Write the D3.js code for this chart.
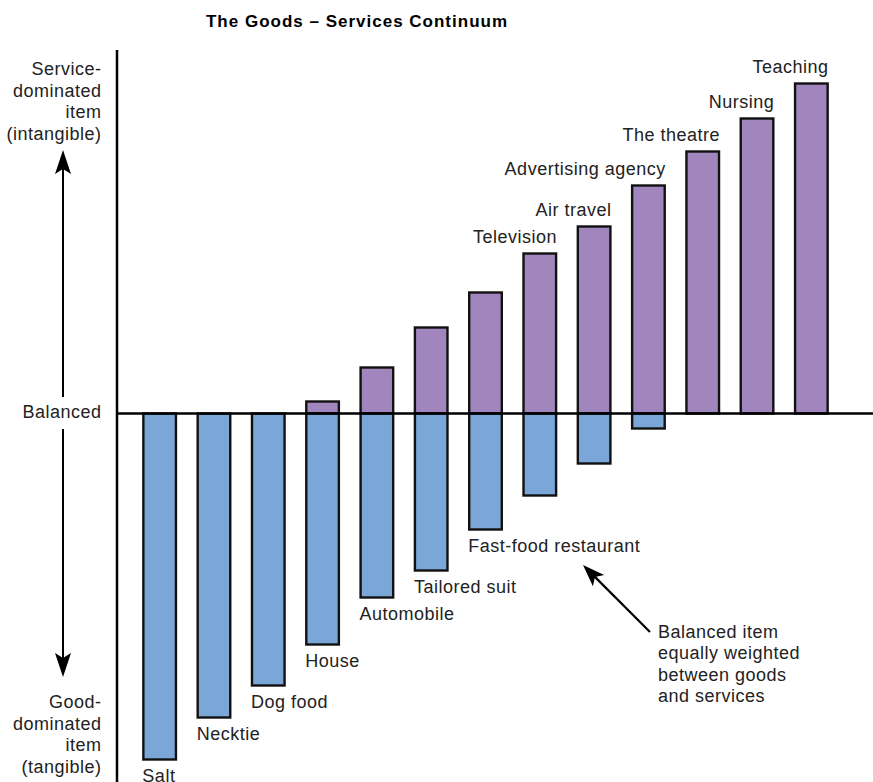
<!DOCTYPE html>
<html>
<head>
<meta charset="utf-8">
<script src="https://cdn.jsdelivr.net/npm/d3@7"></script>
<style>
  html, body { margin: 0; padding: 0; background: #fff; }
  svg { display: block; }
  text { font-family: "Liberation Sans", Arial, Helvetica, sans-serif; }
</style>
</head>
<body>
<div id="chart"></div>
<script>
// ---- data ----
const title = "The Goods \u2013 Services Continuum";
const categories = ["Salt", "Necktie", "Dog food", "House", "Automobile", "Tailored suit",
  "Fast-food restaurant", "Television", "Air travel", "Advertising agency",
  "The theatre", "Nursing", "Teaching"];
// service-dominated share (above the balance line)
const serviceValues = [0, 0, 0, 12, 46, 86, 121, 160, 187, 228, 262, 295, 330];
// goods-dominated share (below the balance line)
const goodsValues = [-346, -304, -272, -231, -184, -157, -116, -82, -50, -15, 0, 0, 0];
// categories whose label sits under the bar
const labelBelow = ["Salt", "Necktie", "Dog food", "House", "Automobile", "Tailored suit", "Fast-food restaurant"];
const topAxisLabel = ["Service-", "dominated", "item", "(intangible)"];
const bottomAxisLabel = ["Good-", "dominated", "item", "(tangible)"];
const balancedLabel = "Balanced";
const noteLines = ["Balanced item", "equally weighted", "between goods", "and services"];

// ---- layout ----
const W = 873, H = 782;
const svg = d3.select("#chart").append("svg").attr("width", W).attr("height", H);

const x = d3.scaleBand().domain(categories).range([132.5, 838.5])
  .paddingInner(0.4).paddingOuter(0.2);
const y = d3.scaleLinear().domain([-350, 335]).range([763.5, 78.5]);

const purple = "#a086bd", blue = "#7ba6d8";
const textCol = "#222";
const LS = 0.5;

// title
svg.append("text").attr("x", 357).attr("y", 27).attr("text-anchor", "middle")
  .attr("font-size", 17).attr("font-weight", "bold").attr("letter-spacing", 1)
  .attr("fill", "#000").text(title);

const data = categories.map((c, i) => ({ c, s: serviceValues[i], g: goodsValues[i] }));

// service bars
svg.append("g").selectAll("rect").data(data.filter(d => d.s > 0)).join("rect")
  .attr("x", d => x(d.c)).attr("width", x.bandwidth())
  .attr("y", d => y(d.s)).attr("height", d => y(0) - y(d.s))
  .attr("fill", purple).attr("stroke", "#111").attr("stroke-width", 2.4);

// goods bars
svg.append("g").selectAll("rect").data(data.filter(d => d.g < 0)).join("rect")
  .attr("x", d => x(d.c)).attr("width", x.bandwidth())
  .attr("y", y(0)).attr("height", d => y(d.g) - y(0))
  .attr("fill", blue).attr("stroke", "#111").attr("stroke-width", 2.4);

// bar labels
svg.append("g").selectAll("text").data(data).join("text")
  .attr("font-size", 18).attr("fill", textCol).attr("letter-spacing", LS)
  .attr("text-anchor", d => labelBelow.includes(d.c) ? "start" : "end")
  .attr("x", d => labelBelow.includes(d.c) ? x(d.c) - 1 : x(d.c) + x.bandwidth() + 1)
  .attr("y", d => labelBelow.includes(d.c) ? y(d.g) + 22.5 : y(d.s) - 10.5)
  .text(d => d.c);

// axes lines
svg.append("line").attr("x1", 117).attr("x2", 117).attr("y1", 50).attr("y2", H)
  .attr("stroke", "#000").attr("stroke-width", 2.5);
svg.append("line").attr("x1", 116).attr("x2", W).attr("y1", y(0)).attr("y2", y(0))
  .attr("stroke", "#000").attr("stroke-width", 2.5);

// left labels
const lh = 21.5;
svg.append("g").selectAll("text").data(topAxisLabel).join("text")
  .attr("x", 101.5).attr("y", (d, i) => 75 + i * lh).attr("text-anchor", "end")
  .attr("font-size", 18).attr("letter-spacing", LS).attr("fill", textCol).text(d => d);
svg.append("g").selectAll("text").data(bottomAxisLabel).join("text")
  .attr("x", 101.5).attr("y", (d, i) => 708 + i * lh).attr("text-anchor", "end")
  .attr("font-size", 18).attr("letter-spacing", LS).attr("fill", textCol).text(d => d);
svg.append("text").attr("x", 101.5).attr("y", y(0) + 4.5).attr("text-anchor", "end")
  .attr("font-size", 18).attr("letter-spacing", LS).attr("fill", textCol).text(balancedLabel);

// vertical double arrow
const ax = 63;
svg.append("line").attr("x1", ax).attr("x2", ax).attr("y1", 168).attr("y2", 397)
  .attr("stroke", "#000").attr("stroke-width", 2);
svg.append("line").attr("x1", ax).attr("x2", ax).attr("y1", 429).attr("y2", 660)
  .attr("stroke", "#000").attr("stroke-width", 2);
svg.append("path").attr("d", `M${ax},150 L${ax - 8},174 L${ax},169 L${ax + 8},174 Z`).attr("fill", "#000");
svg.append("path").attr("d", `M${ax},677 L${ax - 8},653 L${ax},658 L${ax + 8},653 Z`).attr("fill", "#000");

// annotation arrow
const tipX = 583, tipY = 565, tailX = 650, tailY = 632;
const ang = Math.atan2(tailY - tipY, tailX - tipX);
svg.append("line").attr("x1", tailX).attr("y1", tailY)
  .attr("x2", tipX + 14 * Math.cos(ang)).attr("y2", tipY + 14 * Math.sin(ang))
  .attr("stroke", "#000").attr("stroke-width", 2.2);
const hl = 22, hw = 8;
const bx = tipX + hl * Math.cos(ang), by = tipY + hl * Math.sin(ang);
const mx = tipX + (hl - 5) * Math.cos(ang), my = tipY + (hl - 5) * Math.sin(ang);
const px = -Math.sin(ang), py = Math.cos(ang);
svg.append("path")
  .attr("d", `M${tipX},${tipY} L${bx + px * hw},${by + py * hw} L${mx},${my} L${bx - px * hw},${by - py * hw} Z`)
  .attr("fill", "#000");

svg.append("g").selectAll("text").data(noteLines).join("text")
  .attr("x", 658).attr("y", (d, i) => 637.5 + i * lh)
  .attr("font-size", 18).attr("letter-spacing", LS).attr("fill", textCol).text(d => d);
</script>
</body>
</html>
